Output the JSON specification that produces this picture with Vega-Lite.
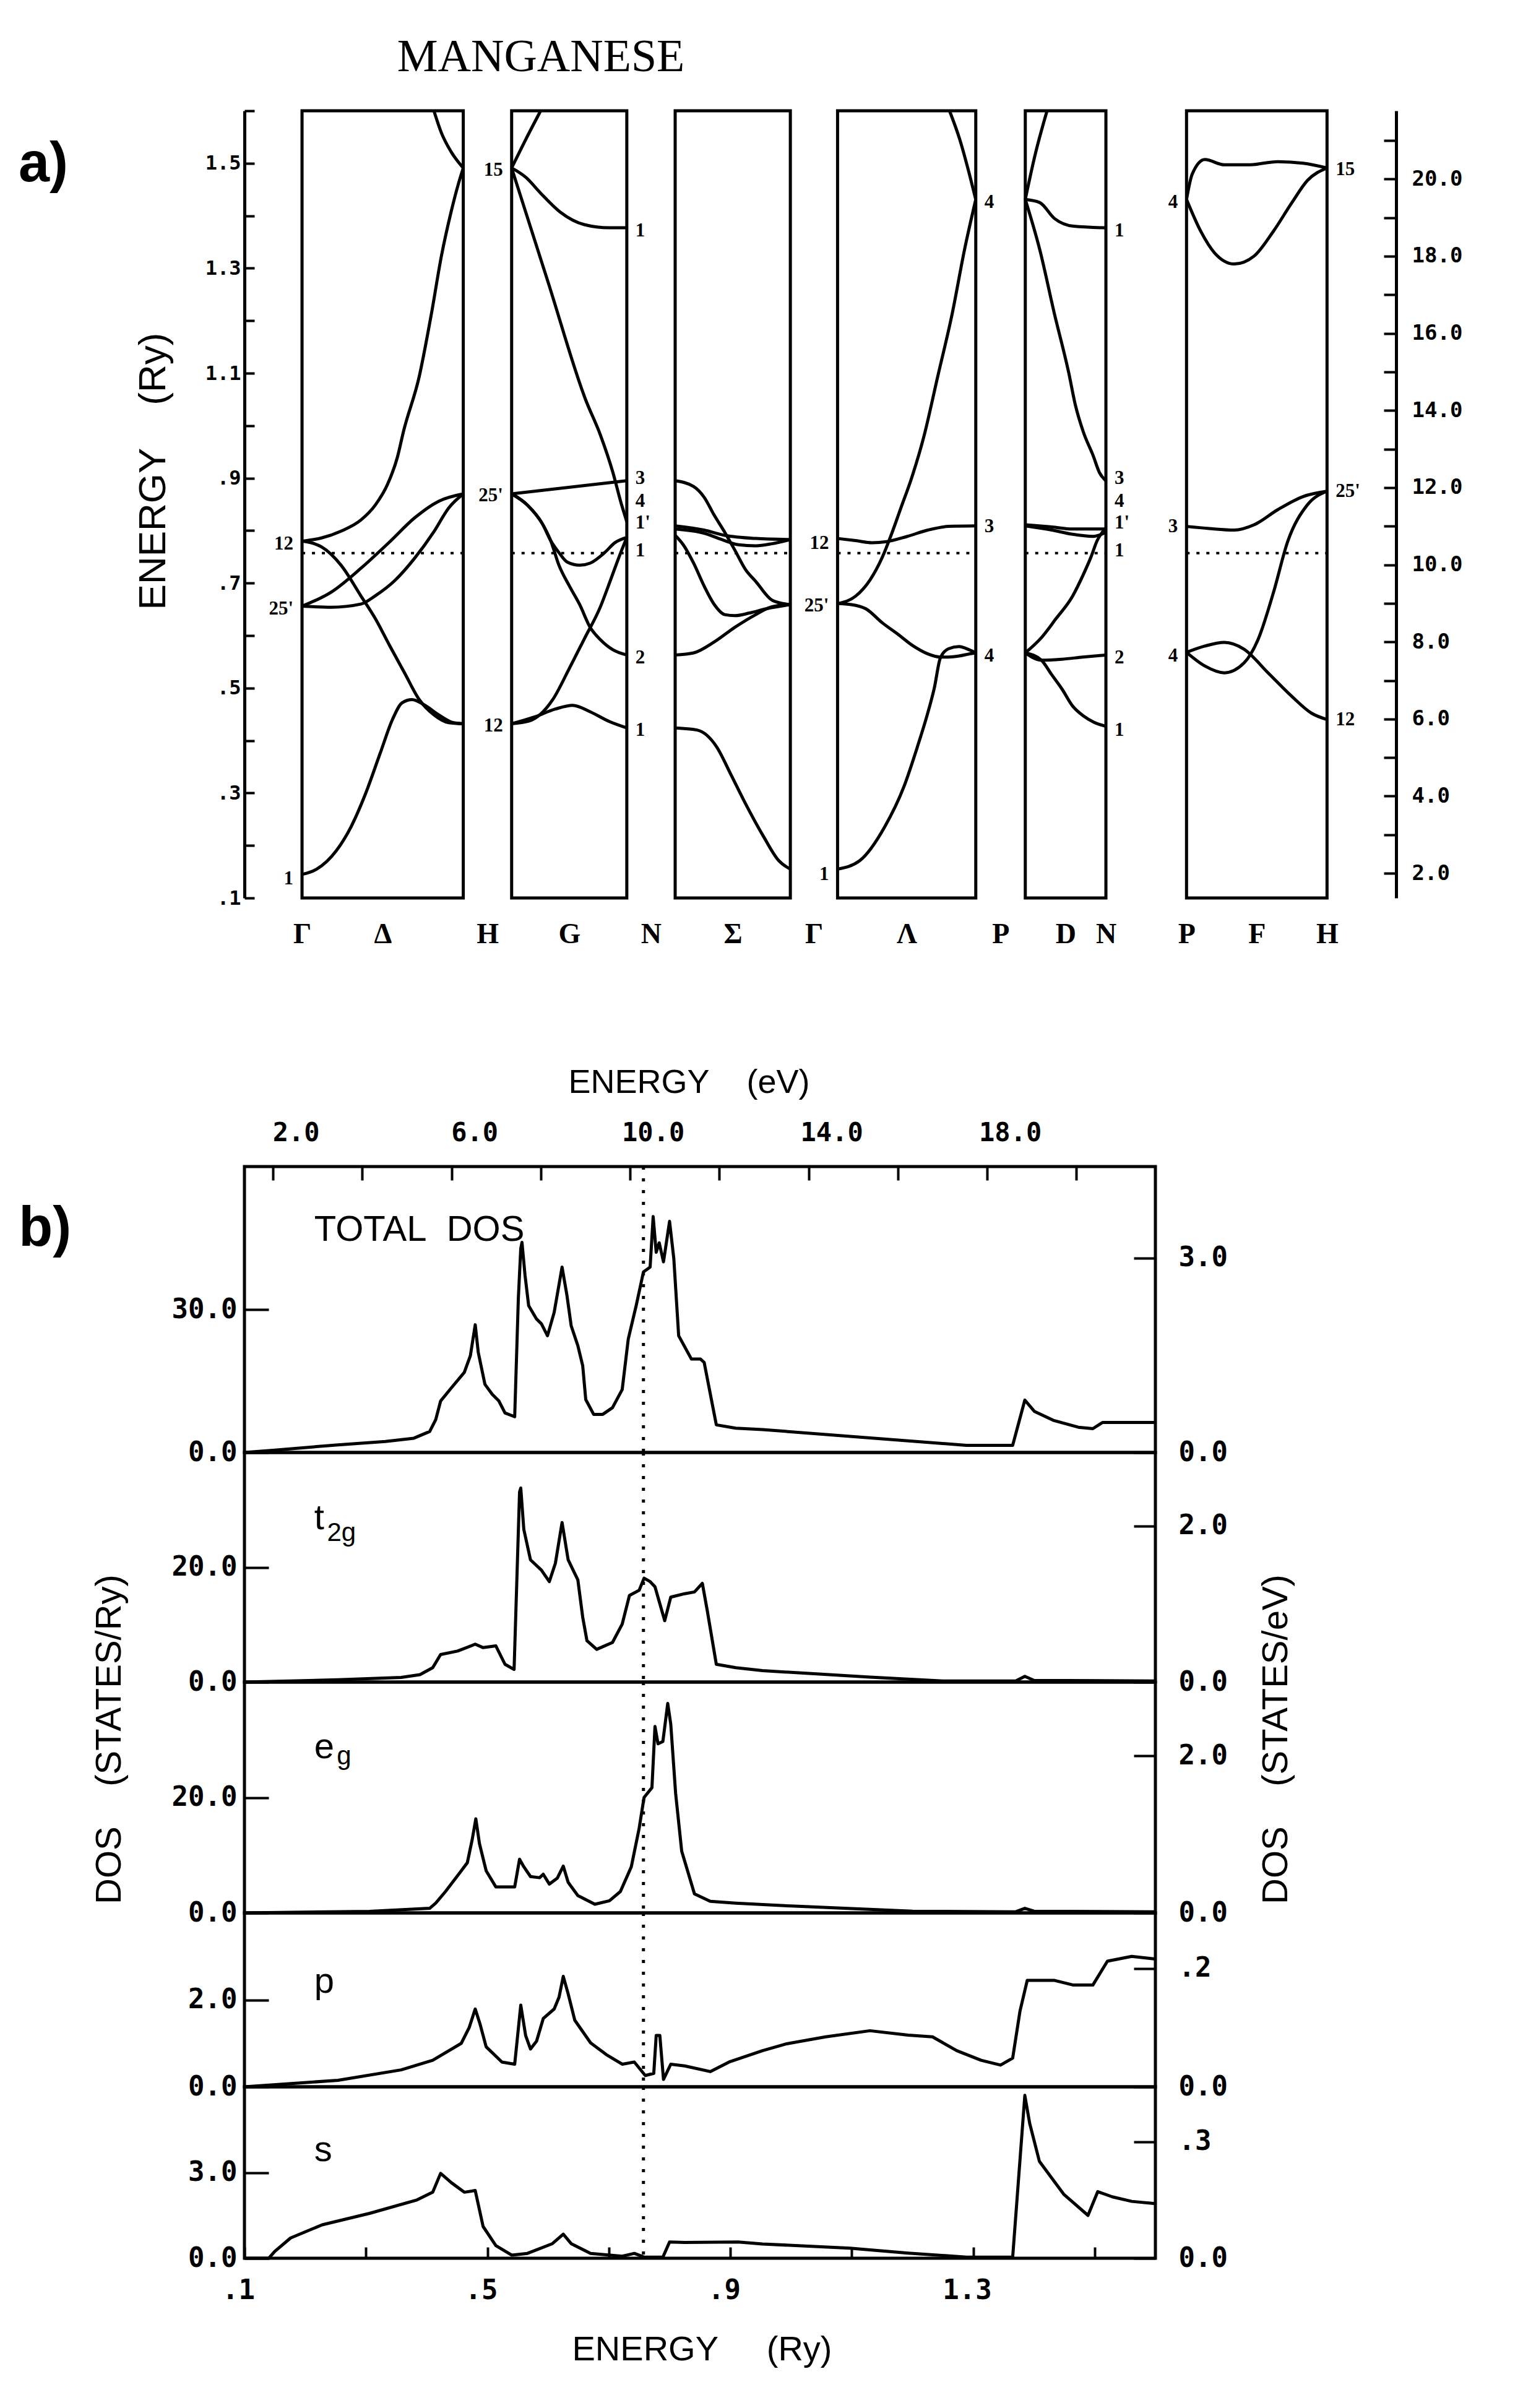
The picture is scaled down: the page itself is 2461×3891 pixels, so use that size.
{
"$schema": "https://vega.github.io/schema/vega-lite/v6.json",
"background": "white",
"padding": {"left": 27, "top": 56, "right": 10, "bottom": 10},
"config": {
  "axis": {"grid": false, "labelFlush": false, "labelOverlap": false, "domainColor": "black", "tickColor": "black", "labelColor": "black", "titleColor": "black"},
  "view": {"stroke": null}
},
"datasets": {
  "boxes": [{"k0":5,"k1":19},{"k0":23.2,"k1":33.2},{"k0":37.4,"k1":47.4},{"k0":51.5,"k1":63.5},{"k0":67.8,"k1":74.8},{"k0":81.8,"k1":94}],
  "lblR": [
    {"k":33.2,"E":1.371,"t":"1"},{"k":33.2,"E":0.899,"t":"3"},{"k":33.2,"E":0.856,"t":"4"},{"k":33.2,"E":0.815,"t":"1'"},{"k":33.2,"E":0.762,"t":"1"},{"k":33.2,"E":0.558,"t":"2"},{"k":33.2,"E":0.42,"t":"1"},
    {"k":63.5,"E":1.425,"t":"4"},{"k":63.5,"E":0.808,"t":"3"},{"k":63.5,"E":0.561,"t":"4"},
    {"k":74.8,"E":1.371,"t":"1"},{"k":74.8,"E":0.899,"t":"3"},{"k":74.8,"E":0.856,"t":"4"},{"k":74.8,"E":0.815,"t":"1'"},{"k":74.8,"E":0.762,"t":"1"},{"k":74.8,"E":0.558,"t":"2"},{"k":74.8,"E":0.42,"t":"1"},
    {"k":94,"E":1.488,"t":"15"},{"k":94,"E":0.875,"t":"25'"},{"k":94,"E":0.44,"t":"12"}
  ],
  "lblL": [
    {"k":5,"E":0.775,"t":"12"},{"k":5,"E":0.651,"t":"25'"},{"k":5,"E":0.136,"t":"1"},
    {"k":23.2,"E":1.487,"t":"15"},{"k":23.2,"E":0.866,"t":"25'"},{"k":23.2,"E":0.428,"t":"12"},
    {"k":51.5,"E":0.776,"t":"12"},{"k":51.5,"E":0.657,"t":"25'"},{"k":51.5,"E":0.145,"t":"1"},
    {"k":81.8,"E":1.425,"t":"4"},{"k":81.8,"E":0.808,"t":"3"},{"k":81.8,"E":0.561,"t":"4"}
  ],
  "bands": [
    {"c":"c1","k":5,"E":0.145},{"c":"c1","k":6.27,"E":0.155},{"c":"c1","k":7.97,"E":0.19},{"c":"c1","k":9.24,"E":0.235},{"c":"c1","k":10.52,"E":0.299},{"c":"c1","k":11.79,"E":0.376},{"c":"c1","k":12.85,"E":0.44},{"c":"c1","k":13.69,"E":0.472},{"c":"c1","k":14.55,"E":0.478},{"c":"c1","k":15.61,"E":0.468},{"c":"c1","k":16.87,"E":0.449},{"c":"c1","k":18.15,"E":0.434},{"c":"c1","k":19,"E":0.432},
    {"c":"c2","k":5,"E":0.78},{"c":"c2","k":6.69,"E":0.769},{"c":"c2","k":8.39,"E":0.734},{"c":"c2","k":10.1,"E":0.676},{"c":"c2","k":11.37,"E":0.632},{"c":"c2","k":12.63,"E":0.58},{"c":"c2","k":13.9,"E":0.529},{"c":"c2","k":15.18,"E":0.478},{"c":"c2","k":16.45,"E":0.449},{"c":"c2","k":17.73,"E":0.434},{"c":"c2","k":19,"E":0.432},
    {"c":"c3","k":5,"E":0.78},{"c":"c3","k":6.69,"E":0.786},{"c":"c3","k":8.39,"E":0.799},{"c":"c3","k":10.1,"E":0.82},{"c":"c3","k":11.37,"E":0.849},{"c":"c3","k":12.42,"E":0.888},{"c":"c3","k":13.27,"E":0.939},{"c":"c3","k":13.82,"E":0.99},{"c":"c3","k":15.18,"E":1.094},{"c":"c3","k":16.24,"E":1.214},{"c":"c3","k":17.1,"E":1.323},{"c":"c3","k":17.94,"E":1.407},{"c":"c3","k":18.58,"E":1.461},{"c":"c3","k":19,"E":1.491},
    {"c":"c4","k":16.45,"E":1.6},{"c":"c4","k":17.1,"E":1.558},{"c":"c4","k":17.94,"E":1.522},{"c":"c4","k":19,"E":1.491},
    {"c":"c5","k":5,"E":0.656},{"c":"c5","k":7.55,"E":0.683},{"c":"c5","k":10.1,"E":0.728},{"c":"c5","k":12.63,"E":0.779},{"c":"c5","k":14.76,"E":0.824},{"c":"c5","k":16.87,"E":0.856},{"c":"c5","k":19,"E":0.87},
    {"c":"c6","k":5,"E":0.656},{"c":"c6","k":7.55,"E":0.654},{"c":"c6","k":10.1,"E":0.66},{"c":"c6","k":11.37,"E":0.676},{"c":"c6","k":13.06,"E":0.705},{"c":"c6","k":14.76,"E":0.747},{"c":"c6","k":16.45,"E":0.798},{"c":"c6","k":17.73,"E":0.843},{"c":"c6","k":19,"E":0.87},
    {"c":"c7","k":23.2,"E":1.491},{"c":"c7","k":24.44,"E":1.546},{"c":"c7","k":25.72,"E":1.6},
    {"c":"c8","k":23.2,"E":1.491},{"c":"c8","k":24.44,"E":1.473},{"c":"c8","k":25.72,"E":1.443},{"c":"c8","k":27.42,"E":1.407},{"c":"c8","k":29.52,"E":1.383},{"c":"c8","k":31.66,"E":1.377},{"c":"c8","k":33.2,"E":1.377},
    {"c":"c9","k":23.2,"E":1.491},{"c":"c9","k":26.4,"E":1.271},{"c":"c9","k":29.63,"E":1.049},{"c":"c9","k":30.91,"E":0.982},{"c":"c9","k":31.99,"E":0.911},{"c":"c9","k":32.71,"E":0.852},{"c":"c9","k":33.2,"E":0.817},
    {"c":"c10","k":23.2,"E":0.87},{"c":"c10","k":33.2,"E":0.895},
    {"c":"c11","k":23.2,"E":0.87},{"c":"c11","k":24.6,"E":0.848},{"c":"c11","k":25.87,"E":0.813},{"c":"c11","k":26.59,"E":0.781},{"c":"c11","k":27.31,"E":0.758},{"c":"c11","k":28.03,"E":0.74},{"c":"c11","k":29.11,"E":0.734},{"c":"c11","k":30.01,"E":0.738},{"c":"c11","k":31.27,"E":0.758},{"c":"c11","k":32.17,"E":0.777},{"c":"c11","k":33.2,"E":0.787},
    {"c":"c12","k":23.2,"E":0.87},{"c":"c12","k":24.6,"E":0.848},{"c":"c12","k":25.87,"E":0.813},{"c":"c12","k":26.59,"E":0.781},{"c":"c12","k":27.31,"E":0.734},{"c":"c12","k":28.2,"E":0.695},{"c":"c12","k":29.11,"E":0.659},{"c":"c12","k":30.01,"E":0.616},{"c":"c12","k":30.91,"E":0.592},{"c":"c12","k":31.99,"E":0.573},{"c":"c12","k":33.2,"E":0.563},
    {"c":"c13","k":23.2,"E":0.432},{"c":"c13","k":24.7,"E":0.437},{"c":"c13","k":25.7,"E":0.45},{"c":"c13","k":26.77,"E":0.478},{"c":"c13","k":28.2,"E":0.537},{"c":"c13","k":29.47,"E":0.592},{"c":"c13","k":30.91,"E":0.655},{"c":"c13","k":31.79,"E":0.706},{"c":"c13","k":32.53,"E":0.75},{"c":"c13","k":33.2,"E":0.787},
    {"c":"c14","k":23.2,"E":0.432},{"c":"c14","k":25.2,"E":0.445},{"c":"c14","k":27,"E":0.46},{"c":"c14","k":28.5,"E":0.467},{"c":"c14","k":30,"E":0.455},{"c":"c14","k":31.7,"E":0.436},{"c":"c14","k":33.2,"E":0.424},
    {"c":"c15","k":37.4,"E":0.424},{"c":"c15","k":39.3,"E":0.42},{"c":"c15","k":41,"E":0.388},{"c":"c15","k":42.2,"E":0.337},{"c":"c15","k":43.5,"E":0.28},{"c":"c15","k":45.1,"E":0.216},{"c":"c15","k":46.4,"E":0.171},{"c":"c15","k":47.4,"E":0.155},
    {"c":"c16","k":37.4,"E":0.563},{"c":"c16","k":39,"E":0.567},{"c":"c16","k":40.8,"E":0.588},{"c":"c16","k":42.6,"E":0.616},{"c":"c16","k":44.4,"E":0.64},{"c":"c16","k":45.8,"E":0.655},{"c":"c16","k":47.4,"E":0.659},
    {"c":"c17","k":37.4,"E":0.895},{"c":"c17","k":39,"E":0.884},{"c":"c17","k":39.9,"E":0.864},{"c":"c17","k":40.8,"E":0.829},{"c":"c17","k":41.7,"E":0.797},{"c":"c17","k":42.6,"E":0.762},{"c":"c17","k":43.5,"E":0.726},{"c":"c17","k":44.4,"E":0.703},{"c":"c17","k":45.85,"E":0.667},{"c":"c17","k":47.4,"E":0.659},
    {"c":"c18","k":37.4,"E":0.791},{"c":"c18","k":38.1,"E":0.773},{"c":"c18","k":39,"E":0.738},{"c":"c18","k":39.9,"E":0.695},{"c":"c18","k":40.8,"E":0.659},{"c":"c18","k":41.7,"E":0.64},{"c":"c18","k":42.6,"E":0.638},{"c":"c18","k":43.85,"E":0.643},{"c":"c18","k":45.3,"E":0.651},{"c":"c18","k":47.4,"E":0.659},
    {"c":"c19","k":37.4,"E":0.809},{"c":"c19","k":39.9,"E":0.801},{"c":"c19","k":41.7,"E":0.791},{"c":"c19","k":44.4,"E":0.785},{"c":"c19","k":47.4,"E":0.783},
    {"c":"c20","k":37.4,"E":0.803},{"c":"c20","k":39.9,"E":0.795},{"c":"c20","k":41.7,"E":0.781},{"c":"c20","k":42.9,"E":0.773},{"c":"c20","k":44.4,"E":0.771},{"c":"c20","k":45.8,"E":0.775},{"c":"c20","k":47.4,"E":0.783},
    {"c":"c21","k":51.5,"E":0.155},{"c":"c21","k":53.42,"E":0.171},{"c":"c21","k":55.58,"E":0.235},{"c":"c21","k":57.26,"E":0.312},{"c":"c21","k":58.46,"E":0.39},{"c":"c21","k":59.3,"E":0.45},{"c":"c21","k":59.9,"E":0.5},{"c":"c21","k":60.42,"E":0.557},{"c":"c21","k":61.14,"E":0.575},{"c":"c21","k":62.04,"E":0.579},{"c":"c21","k":62.92,"E":0.573},{"c":"c21","k":63.5,"E":0.567},
    {"c":"c22","k":51.5,"E":0.661},{"c":"c22","k":52.7,"E":0.659},{"c":"c22","k":53.96,"E":0.651},{"c":"c22","k":55.4,"E":0.624},{"c":"c22","k":56.65,"E":0.604},{"c":"c22","k":58.08,"E":0.58},{"c":"c22","k":59.34,"E":0.565},{"c":"c22","k":60.42,"E":0.559},{"c":"c22","k":61.14,"E":0.559},{"c":"c22","k":62.04,"E":0.561},{"c":"c22","k":62.92,"E":0.565},{"c":"c22","k":63.5,"E":0.567},
    {"c":"c23","k":51.5,"E":0.661},{"c":"c23","k":53.06,"E":0.675},{"c":"c23","k":54.32,"E":0.706},{"c":"c23","k":55.4,"E":0.75},{"c":"c23","k":56.11,"E":0.789},{"c":"c23","k":57.01,"E":0.844},{"c":"c23","k":57.91,"E":0.899},{"c":"c23","k":58.98,"E":0.978},{"c":"c23","k":60.2,"E":1.094},{"c":"c23","k":61.46,"E":1.214},{"c":"c23","k":62.52,"E":1.335},{"c":"c23","k":63.5,"E":1.431},
    {"c":"c24","k":61.22,"E":1.6},{"c":"c24","k":62.1,"E":1.546},{"c":"c24","k":62.95,"E":1.479},{"c":"c24","k":63.5,"E":1.431},
    {"c":"c25","k":51.5,"E":0.785},{"c":"c25","k":53.06,"E":0.781},{"c":"c25","k":54.5,"E":0.777},{"c":"c25","k":55.75,"E":0.779},{"c":"c25","k":57.55,"E":0.789},{"c":"c25","k":59.34,"E":0.801},{"c":"c25","k":61.14,"E":0.808},{"c":"c25","k":63.5,"E":0.809},
    {"c":"c26","k":67.8,"E":0.567},{"c":"c26","k":69.2,"E":0.553},{"c":"c26","k":70.99,"E":0.555},{"c":"c26","k":72.79,"E":0.559},{"c":"c26","k":74.8,"E":0.563},
    {"c":"c27","k":67.8,"E":0.567},{"c":"c27","k":69.2,"E":0.553},{"c":"c27","k":70.11,"E":0.525},{"c":"c27","k":70.99,"E":0.498},{"c":"c27","k":71.9,"E":0.466},{"c":"c27","k":72.84,"E":0.447},{"c":"c27","k":73.75,"E":0.435},{"c":"c27","k":74.8,"E":0.427},
    {"c":"c28","k":67.8,"E":0.567},{"c":"c28","k":69.2,"E":0.596},{"c":"c28","k":70.46,"E":0.632},{"c":"c28","k":71.9,"E":0.675},{"c":"c28","k":72.79,"E":0.714},{"c":"c28","k":73.51,"E":0.75},{"c":"c28","k":74.04,"E":0.781},{"c":"c28","k":74.49,"E":0.797},{"c":"c28","k":74.8,"E":0.805},
    {"c":"c29","k":67.8,"E":0.811},{"c":"c29","k":70.11,"E":0.807},{"c":"c29","k":71.9,"E":0.803},{"c":"c29","k":74.8,"E":0.803},
    {"c":"c30","k":67.8,"E":0.809},{"c":"c30","k":70.11,"E":0.801},{"c":"c30","k":71.9,"E":0.793},{"c":"c30","k":73.69,"E":0.789},{"c":"c30","k":74.8,"E":0.797},
    {"c":"c31","k":67.8,"E":1.431},{"c":"c31","k":69.06,"E":1.425},{"c":"c31","k":70.32,"E":1.395},{"c":"c31","k":72,"E":1.38},{"c":"c31","k":74.8,"E":1.377},
    {"c":"c32","k":67.8,"E":1.431},{"c":"c32","k":68.64,"E":1.515},{"c":"c32","k":69.69,"E":1.6},
    {"c":"c33","k":67.8,"E":1.431},{"c":"c33","k":69.06,"E":1.335},{"c":"c33","k":70.32,"E":1.214},{"c":"c33","k":71.58,"E":1.1},{"c":"c33","k":72.14,"E":1.04},{"c":"c33","k":72.84,"E":0.988},{"c":"c33","k":73.69,"E":0.943},{"c":"c33","k":74.23,"E":0.911},{"c":"c33","k":74.8,"E":0.895},
    {"c":"c34","k":81.8,"E":0.808},{"c":"c34","k":83.75,"E":0.804},{"c":"c34","k":85.95,"E":0.801},{"c":"c34","k":87.66,"E":0.811},{"c":"c34","k":89.73,"E":0.84},{"c":"c34","k":91.93,"E":0.865},{"c":"c34","k":94,"E":0.875},
    {"c":"c35","k":81.8,"E":0.568},{"c":"c35","k":83.39,"E":0.542},{"c":"c35","k":85.09,"E":0.529},{"c":"c35","k":86.8,"E":0.548},{"c":"c35","k":88.02,"E":0.593},{"c":"c35","k":89.36,"E":0.683},{"c":"c35","k":90.58,"E":0.779},{"c":"c35","k":92.29,"E":0.849},{"c":"c35","k":94,"E":0.875},
    {"c":"c36","k":81.8,"E":0.568},{"c":"c36","k":83.39,"E":0.58},{"c":"c36","k":85.09,"E":0.587},{"c":"c36","k":86.8,"E":0.574},{"c":"c36","k":88.88,"E":0.529},{"c":"c36","k":90.95,"E":0.484},{"c":"c36","k":92.66,"E":0.452},{"c":"c36","k":94,"E":0.44},
    {"c":"c37","k":81.8,"E":1.431},{"c":"c37","k":83.02,"E":1.371},{"c":"c37","k":84.24,"E":1.329},{"c":"c37","k":85.95,"E":1.308},{"c":"c37","k":87.66,"E":1.323},{"c":"c37","k":89.36,"E":1.371},{"c":"c37","k":90.95,"E":1.425},{"c":"c37","k":92.29,"E":1.467},{"c":"c37","k":94,"E":1.491},
    {"c":"c38","k":81.8,"E":1.431},{"c":"c38","k":82.29,"E":1.479},{"c":"c38","k":83.39,"E":1.507},{"c":"c38","k":85.09,"E":1.497},{"c":"c38","k":87.17,"E":1.497},{"c":"c38","k":89.73,"E":1.503},{"c":"c38","k":91.93,"E":1.5},{"c":"c38","k":94,"E":1.491}
  ],
  "total": [
    {"ry":0.1,"dos":0},{"ry":0.15,"dos":0.5},{"ry":0.254,"dos":1.6},{"ry":0.332,"dos":2.3},{"ry":0.379,"dos":3.0},{"ry":0.405,"dos":4.4},{"ry":0.415,"dos":6.9},{"ry":0.423,"dos":10.8},{"ry":0.441,"dos":13.6},{"ry":0.462,"dos":16.8},{"ry":0.472,"dos":20.3},{"ry":0.48,"dos":26.8},{"ry":0.485,"dos":21.0},{"ry":0.496,"dos":14.3},{"ry":0.508,"dos":12.2},{"ry":0.519,"dos":10.8},{"ry":0.529,"dos":8.3},{"ry":0.545,"dos":7.5},{"ry":0.551,"dos":32.3},{"ry":0.555,"dos":42.8},{"ry":0.557,"dos":44.1},{"ry":0.562,"dos":37.2},{"ry":0.568,"dos":30.8},{"ry":0.581,"dos":28.0},{"ry":0.589,"dos":27.0},{"ry":0.599,"dos":24.5},{"ry":0.61,"dos":29.4},{"ry":0.623,"dos":38.9},{"ry":0.631,"dos":33.0},{"ry":0.638,"dos":26.6},{"ry":0.649,"dos":22.4},{"ry":0.657,"dos":18.2},{"ry":0.662,"dos":11.1},{"ry":0.675,"dos":8.0},{"ry":0.69,"dos":8.0},{"ry":0.706,"dos":9.4},{"ry":0.722,"dos":13.2},{"ry":0.732,"dos":23.8},{"ry":0.745,"dos":30.8},{"ry":0.757,"dos":37.9},{"ry":0.768,"dos":38.9},{"ry":0.773,"dos":49.5},{"ry":0.778,"dos":42.0},{"ry":0.783,"dos":44.0},{"ry":0.79,"dos":40.0},{"ry":0.8,"dos":48.5},{"ry":0.807,"dos":40.7},{"ry":0.815,"dos":24.5},{"ry":0.836,"dos":19.6},{"ry":0.851,"dos":19.6},{"ry":0.857,"dos":18.9},{"ry":0.877,"dos":5.8},{"ry":0.909,"dos":5.1},{"ry":0.953,"dos":4.8},{"ry":1.289,"dos":1.5},{"ry":1.365,"dos":1.5},{"ry":1.385,"dos":11.0},{"ry":1.401,"dos":8.6},{"ry":1.433,"dos":6.7},{"ry":1.473,"dos":5.3},{"ry":1.497,"dos":5.0},{"ry":1.513,"dos":6.3},{"ry":1.6,"dos":6.3}
  ],
  "t2g": [
    {"ry":0.1,"dos":0},{"ry":0.254,"dos":0.4},{"ry":0.358,"dos":0.8},{"ry":0.389,"dos":1.3},{"ry":0.41,"dos":2.5},{"ry":0.423,"dos":4.8},{"ry":0.451,"dos":5.4},{"ry":0.48,"dos":6.6},{"ry":0.493,"dos":6.0},{"ry":0.514,"dos":6.3},{"ry":0.529,"dos":3.1},{"ry":0.544,"dos":2.2},{"ry":0.553,"dos":33.1},{"ry":0.555,"dos":33.8},{"ry":0.56,"dos":26.6},{"ry":0.571,"dos":21.3},{"ry":0.589,"dos":19.5},{"ry":0.602,"dos":17.5},{"ry":0.612,"dos":20.7},{"ry":0.623,"dos":27.8},{"ry":0.633,"dos":21.3},{"ry":0.649,"dos":17.8},{"ry":0.657,"dos":11.3},{"ry":0.664,"dos":7.2},{"ry":0.68,"dos":5.7},{"ry":0.706,"dos":6.9},{"ry":0.722,"dos":10.1},{"ry":0.734,"dos":15.1},{"ry":0.75,"dos":16.0},{"ry":0.758,"dos":18.1},{"ry":0.768,"dos":17.5},{"ry":0.776,"dos":16.6},{"ry":0.792,"dos":10.7},{"ry":0.802,"dos":14.8},{"ry":0.825,"dos":15.4},{"ry":0.841,"dos":15.7},{"ry":0.854,"dos":17.2},{"ry":0.862,"dos":12.5},{"ry":0.877,"dos":3.1},{"ry":0.909,"dos":2.5},{"ry":0.953,"dos":2.0},{"ry":1.13,"dos":0.85},{"ry":1.25,"dos":0.2},{"ry":1.37,"dos":0.2},{"ry":1.385,"dos":1.0},{"ry":1.4,"dos":0.3},{"ry":1.6,"dos":0.2}
  ],
  "eg": [
    {"ry":0.1,"dos":0},{"ry":0.306,"dos":0.27},{"ry":0.405,"dos":0.8},{"ry":0.415,"dos":1.7},{"ry":0.431,"dos":3.7},{"ry":0.457,"dos":7.3},{"ry":0.467,"dos":8.7},{"ry":0.475,"dos":12.7},{"ry":0.481,"dos":16.3},{"ry":0.487,"dos":12.0},{"ry":0.498,"dos":7.3},{"ry":0.514,"dos":4.5},{"ry":0.545,"dos":4.5},{"ry":0.553,"dos":9.3},{"ry":0.56,"dos":8.0},{"ry":0.571,"dos":6.3},{"ry":0.586,"dos":6.1},{"ry":0.592,"dos":6.7},{"ry":0.602,"dos":5.0},{"ry":0.615,"dos":6.0},{"ry":0.625,"dos":8.1},{"ry":0.633,"dos":5.3},{"ry":0.649,"dos":3.0},{"ry":0.677,"dos":1.5},{"ry":0.701,"dos":2.1},{"ry":0.719,"dos":3.7},{"ry":0.737,"dos":8.0},{"ry":0.75,"dos":14.7},{"ry":0.758,"dos":20.0},{"ry":0.771,"dos":21.7},{"ry":0.776,"dos":32.3},{"ry":0.781,"dos":29.3},{"ry":0.789,"dos":29.7},{"ry":0.797,"dos":36.3},{"ry":0.802,"dos":32.7},{"ry":0.81,"dos":20.7},{"ry":0.82,"dos":10.7},{"ry":0.841,"dos":3.3},{"ry":0.867,"dos":2.0},{"ry":0.909,"dos":1.7},{"ry":1.0,"dos":1.2},{"ry":1.2,"dos":0.3},{"ry":1.37,"dos":0.2},{"ry":1.385,"dos":0.8},{"ry":1.4,"dos":0.3},{"ry":1.6,"dos":0.2}
  ],
  "p": [
    {"ry":0.1,"dos":0},{"ry":0.254,"dos":0.15},{"ry":0.358,"dos":0.39},{"ry":0.41,"dos":0.61},{"ry":0.457,"dos":1.0},{"ry":0.47,"dos":1.36},{"ry":0.48,"dos":1.79},{"ry":0.488,"dos":1.44},{"ry":0.498,"dos":0.92},{"ry":0.524,"dos":0.57},{"ry":0.545,"dos":0.52},{"ry":0.555,"dos":1.88},{"ry":0.563,"dos":1.18},{"ry":0.571,"dos":0.87},{"ry":0.581,"dos":1.05},{"ry":0.592,"dos":1.57},{"ry":0.61,"dos":1.79},{"ry":0.618,"dos":2.06},{"ry":0.625,"dos":2.54},{"ry":0.633,"dos":2.14},{"ry":0.644,"dos":1.53},{"ry":0.67,"dos":1.01},{"ry":0.696,"dos":0.74},{"ry":0.722,"dos":0.52},{"ry":0.742,"dos":0.57},{"ry":0.76,"dos":0.26},{"ry":0.774,"dos":0.31},{"ry":0.778,"dos":1.18},{"ry":0.784,"dos":1.18},{"ry":0.79,"dos":0.17},{"ry":0.802,"dos":0.52},{"ry":0.825,"dos":0.48},{"ry":0.867,"dos":0.35},{"ry":0.898,"dos":0.57},{"ry":0.953,"dos":0.83},{"ry":0.993,"dos":0.99},{"ry":1.057,"dos":1.15},{"ry":1.13,"dos":1.29},{"ry":1.193,"dos":1.19},{"ry":1.233,"dos":1.15},{"ry":1.273,"dos":0.83},{"ry":1.313,"dos":0.61},{"ry":1.345,"dos":0.5},{"ry":1.365,"dos":0.66},{"ry":1.377,"dos":1.74},{"ry":1.389,"dos":2.45},{"ry":1.433,"dos":2.45},{"ry":1.465,"dos":2.34},{"ry":1.497,"dos":2.34},{"ry":1.521,"dos":2.89},{"ry":1.561,"dos":3.0},{"ry":1.6,"dos":2.94}
  ],
  "s": [
    {"ry":0.1,"dos":0},{"ry":0.14,"dos":0},{"ry":0.15,"dos":0.24},{"ry":0.176,"dos":0.71},{"ry":0.228,"dos":1.17},{"ry":0.306,"dos":1.57},{"ry":0.384,"dos":2.04},{"ry":0.41,"dos":2.31},{"ry":0.423,"dos":2.97},{"ry":0.441,"dos":2.64},{"ry":0.462,"dos":2.31},{"ry":0.48,"dos":2.37},{"ry":0.493,"dos":1.11},{"ry":0.514,"dos":0.44},{"ry":0.54,"dos":0.11},{"ry":0.566,"dos":0.17},{"ry":0.607,"dos":0.51},{"ry":0.625,"dos":0.84},{"ry":0.638,"dos":0.51},{"ry":0.67,"dos":0.17},{"ry":0.722,"dos":0.07},{"ry":0.742,"dos":0.17},{"ry":0.758,"dos":0.04},{"ry":0.789,"dos":0.04},{"ry":0.8,"dos":0.57},{"ry":0.825,"dos":0.55},{"ry":0.913,"dos":0.57},{"ry":0.953,"dos":0.5},{"ry":1.097,"dos":0.35},{"ry":1.193,"dos":0.18},{"ry":1.289,"dos":0.04},{"ry":1.365,"dos":0.04},{"ry":1.385,"dos":5.7},{"ry":1.393,"dos":4.72},{"ry":1.409,"dos":3.39},{"ry":1.449,"dos":2.24},{"ry":1.489,"dos":1.5},{"ry":1.505,"dos":2.33},{"ry":1.529,"dos":2.15},{"ry":1.561,"dos":1.99},{"ry":1.6,"dos":1.91}
  ]
},
"spacing": 434,
"bounds": "flush",
"vconcat": [
  {
    "width": 1861, "height": 1272,
    "view": {"stroke": null},
    "layer": [
      {"data": {"name": "boxes"},
       "mark": {"type": "rect", "fillOpacity": 0, "stroke": "black", "strokeWidth": 5},
       "encoding": {
         "x": {"field": "k0", "type": "quantitative", "scale": {"domain": [0, 100], "nice": false, "zero": false},
               "axis": {"orient": "bottom", "values": [5,12,21.1,28.2,35.3,42.4,49.45,57.5,65.65,71.3,74.8,81.8,87.9,94],
                        "labelExpr": "['Γ','Δ','H','G','N','Σ','Γ','Λ','P','D','N','P','F','H'][indexof([5,12,21.1,28.2,35.3,42.4,49.45,57.5,65.65,71.3,74.8,81.8,87.9,94], datum.value)]",
                        "ticks": false, "domain": false, "labelPadding": 36, "labelBaseline": "top",
                        "labelFont": "Liberation Serif", "labelFontSize": 46, "labelFontWeight": "bold", "title": null}},
         "x2": {"field": "k1"},
         "y": {"datum": 0.1, "type": "quantitative", "scale": {"domain": [0.1, 1.6], "nice": false, "zero": false},
               "axis": {"orient": "left", "values": [0.1,0.2,0.3,0.4,0.5,0.6,0.7,0.8,0.9,1,1.1,1.2,1.3,1.4,1.5,1.6],
                        "labelExpr": "['.1','','.3','','.5','','.7','','.9','','1.1','','1.3','','1.5',''][indexof([0.1,0.2,0.3,0.4,0.5,0.6,0.7,0.8,0.9,1,1.1,1.2,1.3,1.4,1.5,1.6], datum.value)]",
                        "tickSize": -16, "tickWidth": 4, "domainWidth": 5, "labelPadding": 22,
                        "labelFont": "DejaVu Sans Mono", "labelFontSize": 32, "labelFontWeight": "bold",
                        "title": "ENERGY\u00a0\u00a0\u00a0\u00a0(Ry)", "titleFont": "Liberation Sans", "titleFontSize": 62, "titleFontWeight": "normal",
                        "titleAngle": 270, "titleX": -148, "titleY": 582, "titleAlign": "center", "titleBaseline": "middle"}},
         "y2": {"datum": 1.6}
       }},
      {"data": {"name": "boxes"},
       "mark": {"type": "rule", "strokeDash": [5, 11], "strokeWidth": 4, "color": "black"},
       "encoding": {
         "x": {"field": "k0", "type": "quantitative", "scale": {"domain": [0, 100], "nice": false, "zero": false}, "axis": null},
         "x2": {"field": "k1"},
         "y": {"datum": 0.757, "type": "quantitative", "scale": {"domain": [0.1, 1.6], "nice": false, "zero": false}, "axis": null}
       }},
      {"data": {"name": "bands"},
       "mark": {"type": "line", "color": "black", "strokeWidth": 5, "interpolate": "monotone", "strokeJoin": "round"},
       "encoding": {
         "x": {"field": "k", "type": "quantitative", "scale": {"domain": [0, 100], "nice": false, "zero": false}, "axis": null},
         "y": {"field": "E", "type": "quantitative", "scale": {"domain": [0.1, 1.6], "nice": false, "zero": false}, "axis": null},
         "detail": {"field": "c", "type": "nominal"}
       }},
      {"data": {"name": "lblR"},
       "mark": {"type": "text", "align": "left", "baseline": "middle", "dx": 14, "font": "Liberation Serif", "fontSize": 31, "fontWeight": "bold", "color": "black"},
       "encoding": {
         "x": {"field": "k", "type": "quantitative", "scale": {"domain": [0, 100], "nice": false, "zero": false}, "axis": null},
         "y": {"field": "E", "type": "quantitative", "scale": {"domain": [0.1, 1.6], "nice": false, "zero": false}, "axis": null},
         "text": {"field": "t"}
       }},
      {"data": {"name": "lblL"},
       "mark": {"type": "text", "align": "right", "baseline": "middle", "dx": -14, "font": "Liberation Serif", "fontSize": 31, "fontWeight": "bold", "color": "black"},
       "encoding": {
         "x": {"field": "k", "type": "quantitative", "scale": {"domain": [0, 100], "nice": false, "zero": false}, "axis": null},
         "y": {"field": "E", "type": "quantitative", "scale": {"domain": [0.1, 1.6], "nice": false, "zero": false}, "axis": null},
         "text": {"field": "t"}
       }},
      {"data": {"values": [{}]},
       "mark": {"type": "text", "text": "MANGANESE", "font": "Liberation Serif", "fontSize": 74, "align": "center", "baseline": "alphabetic", "color": "black"},
       "encoding": {
         "x": {"datum": 25.74, "type": "quantitative", "scale": {"domain": [0, 100], "nice": false, "zero": false}, "axis": null},
         "y": {"datum": 1.675, "type": "quantitative", "scale": {"domain": [0.1, 1.6], "nice": false, "zero": false}, "axis": null}
       }},
      {"data": {"values": [{}]},
       "mark": {"type": "text", "text": "a)", "font": "Liberation Sans", "fontSize": 90, "fontWeight": "bold", "align": "left", "baseline": "alphabetic", "color": "black"},
       "encoding": {
         "x": {"datum": -19.61, "type": "quantitative", "scale": {"domain": [0, 100], "nice": false, "zero": false}, "axis": null},
         "y": {"datum": 1.466, "type": "quantitative", "scale": {"domain": [0.1, 1.6], "nice": false, "zero": false}, "axis": null}
       }},
      {"data": {"values": [{}]},
       "mark": {"type": "rule", "opacity": 0},
       "encoding": {
         "y": {"datum": 10.3, "type": "quantitative", "scale": {"domain": [1.3606, 21.7691], "nice": false, "zero": false},
               "axis": {"orient": "right", "values": [2,3,4,5,6,7,8,9,10,11,12,13,14,15,16,17,18,19,20,21],
                        "labelExpr": "datum.value % 2 == 0 ? format(datum.value, '.1f') : ''",
                        "tickSize": -20, "tickWidth": 4, "domainWidth": 5, "labelPadding": 45,
                        "labelFont": "DejaVu Sans Mono", "labelFontSize": 34, "labelFontWeight": "bold", "title": null}}
       }}
    ],
    "resolve": {"scale": {"x": "independent", "y": "independent"}}
  },
  {
    "spacing": 0,
    "bounds": "flush",
    "vconcat": [
      {
        "width": 1472, "height": 462,
        "view": {"stroke": "black", "strokeWidth": 5},
        "layer": [
          {"data": {"name": "total"},
           "mark": {"type": "line", "color": "black", "strokeWidth": 5, "strokeJoin": "round"},
           "encoding": {
             "x": {"field": "ry", "type": "quantitative", "scale": {"domain": [0.1, 1.6], "nice": false, "zero": false}, "axis": null},
             "y": {"field": "dos", "type": "quantitative", "scale": {"domain": [0, 60], "nice": false, "zero": false},
                   "axis": {"orient": "left", "values": [0, 30], "format": ".1f", "tickSize": -39, "tickWidth": 4, "domain": false, "labelPadding": 51,
                            "labelFont": "DejaVu Sans Mono", "labelFontSize": 44, "labelFontWeight": "bold", "title": null}}
           }},
          {"data": {"values": [{}]},
           "mark": {"type": "rule", "strokeDash": [5, 14], "strokeWidth": 5, "color": "black"},
           "encoding": {"x": {"datum": 0.757, "type": "quantitative", "scale": {"domain": [0.1, 1.6], "nice": false, "zero": false}, "axis": null}}},
          {"data": {"values": [{}]},
           "mark": {"type": "text", "text": "TOTAL\u00a0\u00a0DOS", "font": "Liberation Sans", "fontSize": 58, "align": "left", "baseline": "alphabetic", "color": "black"},
           "encoding": {
             "x": {"datum": 0.215, "type": "quantitative", "scale": {"domain": [0.1, 1.6], "nice": false, "zero": false}, "axis": null},
             "y": {"datum": 44.4, "type": "quantitative", "scale": {"domain": [0, 60], "nice": false, "zero": false}, "axis": null}
           }},
          {"data": {"values": [{}]},
           "mark": {"type": "text", "text": "b)", "font": "Liberation Sans", "fontSize": 90, "fontWeight": "bold", "align": "left", "baseline": "alphabetic", "color": "black"},
           "encoding": {
             "x": {"datum": -0.2717, "type": "quantitative", "scale": {"domain": [0.1, 1.6], "nice": false, "zero": false}, "axis": null},
             "y": {"datum": 43.4, "type": "quantitative", "scale": {"domain": [0, 60], "nice": false, "zero": false}, "axis": null}
           }},
          {"data": {"values": [{}]},
           "mark": {"type": "rule", "opacity": 0},
           "encoding": {"y": {"datum": 0, "type": "quantitative", "scale": {"domain": [0, 4.41], "nice": false, "zero": false},
             "axis": {"orient": "right", "values": [0, 3], "format": ".1f", "tickSize": -35, "tickWidth": 4, "domain": false, "labelPadding": 72,
                      "labelFont": "DejaVu Sans Mono", "labelFontSize": 44, "labelFontWeight": "bold", "title": null}}}},
          {"data": {"values": [{}]},
           "mark": {"type": "rule", "opacity": 0},
           "encoding": {"x": {"datum": 10, "type": "quantitative", "scale": {"domain": [1.3606, 21.7691], "nice": false, "zero": false},
             "axis": {"orient": "top", "values": [2,4,6,8,10,12,14,16,18,20],
                      "labelExpr": "datum.value % 4 == 2 ? format(datum.value, '.1f') : ''",
                      "tickSize": -22, "tickWidth": 4, "domain": false, "labelPadding": 55, "labelOffset": 37,
                      "labelFont": "DejaVu Sans Mono", "labelFontSize": 42, "labelFontWeight": "bold",
                      "title": "ENERGY\u00a0\u00a0\u00a0\u00a0(eV)", "titleFont": "Liberation Sans", "titleFontSize": 54, "titleFontWeight": "normal",
                      "titleX": 718, "titleY": -136, "titleAlign": "center", "titleBaseline": "middle"}}}}
        ],
        "resolve": {"scale": {"x": "independent", "y": "independent"}}
      },
      {
        "width": 1472, "height": 371,
        "view": {"stroke": "black", "strokeWidth": 5},
        "layer": [
          {"data": {"name": "t2g"},
           "mark": {"type": "line", "color": "black", "strokeWidth": 5, "strokeJoin": "round"},
           "encoding": {
             "x": {"field": "ry", "type": "quantitative", "scale": {"domain": [0.1, 1.6], "nice": false, "zero": false}, "axis": null},
             "y": {"field": "dos", "type": "quantitative", "scale": {"domain": [0, 40], "nice": false, "zero": false},
                   "axis": {"orient": "left", "values": [0, 20], "format": ".1f", "tickSize": -39, "tickWidth": 4, "domain": false, "labelPadding": 51,
                            "labelFont": "DejaVu Sans Mono", "labelFontSize": 44, "labelFontWeight": "bold", "title": null}}
           }},
          {"data": {"values": [{}]},
           "mark": {"type": "rule", "strokeDash": [5, 14], "strokeWidth": 5, "color": "black"},
           "encoding": {"x": {"datum": 0.757, "type": "quantitative", "scale": {"domain": [0.1, 1.6], "nice": false, "zero": false}, "axis": null}}},
          {"data": {"values": [{}]},
           "mark": {"type": "text", "text": "t", "font": "Liberation Sans", "fontSize": 58, "align": "left", "baseline": "alphabetic", "color": "black"},
           "encoding": {
             "x": {"datum": 0.215, "type": "quantitative", "scale": {"domain": [0.1, 1.6], "nice": false, "zero": false}, "axis": null},
             "y": {"datum": 26.6, "type": "quantitative", "scale": {"domain": [0, 40], "nice": false, "zero": false}, "axis": null}
           }},
          {"data": {"values": [{}]},
           "mark": {"type": "text", "text": "2g", "font": "Liberation Sans", "fontSize": 42, "align": "left", "baseline": "alphabetic", "color": "black"},
           "encoding": {
             "x": {"datum": 0.236, "type": "quantitative", "scale": {"domain": [0.1, 1.6], "nice": false, "zero": false}, "axis": null},
             "y": {"datum": 24.6, "type": "quantitative", "scale": {"domain": [0, 40], "nice": false, "zero": false}, "axis": null}
           }},
          {"data": {"values": [{}]},
           "mark": {"type": "rule", "opacity": 0},
           "encoding": {"y": {"datum": 0, "type": "quantitative", "scale": {"domain": [0, 2.94], "nice": false, "zero": false},
             "axis": {"orient": "right", "values": [0, 2], "format": ".1f", "tickSize": -35, "tickWidth": 4, "domain": false, "labelPadding": 72,
                      "labelFont": "DejaVu Sans Mono", "labelFontSize": 44, "labelFontWeight": "bold", "title": null}}}}
        ],
        "resolve": {"scale": {"y": "independent"}}
      },
      {
        "width": 1472, "height": 373,
        "view": {"stroke": "black", "strokeWidth": 5},
        "layer": [
          {"data": {"name": "eg"},
           "mark": {"type": "line", "color": "black", "strokeWidth": 5, "strokeJoin": "round"},
           "encoding": {
             "x": {"field": "ry", "type": "quantitative", "scale": {"domain": [0.1, 1.6], "nice": false, "zero": false}, "axis": null},
             "y": {"field": "dos", "type": "quantitative", "scale": {"domain": [0, 40], "nice": false, "zero": false},
                   "axis": {"orient": "left", "values": [0, 20], "format": ".1f", "tickSize": -39, "tickWidth": 4, "domain": false, "labelPadding": 51,
                            "labelFont": "DejaVu Sans Mono", "labelFontSize": 44, "labelFontWeight": "bold",
                            "title": "DOS\u00a0\u00a0\u00a0\u00a0(STATES/Ry)", "titleFont": "Liberation Sans", "titleFontSize": 58, "titleFontWeight": "normal",
                            "titleAngle": 270, "titleX": -218, "titleY": 92, "titleAlign": "center", "titleBaseline": "middle"}}
           }},
          {"data": {"values": [{}]},
           "mark": {"type": "rule", "strokeDash": [5, 14], "strokeWidth": 5, "color": "black"},
           "encoding": {"x": {"datum": 0.757, "type": "quantitative", "scale": {"domain": [0.1, 1.6], "nice": false, "zero": false}, "axis": null}}},
          {"data": {"values": [{}]},
           "mark": {"type": "text", "text": "e", "font": "Liberation Sans", "fontSize": 58, "align": "left", "baseline": "alphabetic", "color": "black"},
           "encoding": {
             "x": {"datum": 0.215, "type": "quantitative", "scale": {"domain": [0.1, 1.6], "nice": false, "zero": false}, "axis": null},
             "y": {"datum": 26.8, "type": "quantitative", "scale": {"domain": [0, 40], "nice": false, "zero": false}, "axis": null}
           }},
          {"data": {"values": [{}]},
           "mark": {"type": "text", "text": "g", "font": "Liberation Sans", "fontSize": 42, "align": "left", "baseline": "alphabetic", "color": "black"},
           "encoding": {
             "x": {"datum": 0.252, "type": "quantitative", "scale": {"domain": [0.1, 1.6], "nice": false, "zero": false}, "axis": null},
             "y": {"datum": 25.7, "type": "quantitative", "scale": {"domain": [0, 40], "nice": false, "zero": false}, "axis": null}
           }},
          {"data": {"values": [{}]},
           "mark": {"type": "rule", "opacity": 0},
           "encoding": {"y": {"datum": 0, "type": "quantitative", "scale": {"domain": [0, 2.94], "nice": false, "zero": false},
             "axis": {"orient": "right", "values": [0, 2], "format": ".1f", "tickSize": -35, "tickWidth": 4, "domain": false, "labelPadding": 72,
                      "labelFont": "DejaVu Sans Mono", "labelFontSize": 44, "labelFontWeight": "bold",
                      "title": "DOS\u00a0\u00a0\u00a0\u00a0(STATES/eV)", "titleFont": "Liberation Sans", "titleFontSize": 58, "titleFontWeight": "normal",
                      "titleAngle": 270, "titleX": 195, "titleY": 92, "titleAlign": "center", "titleBaseline": "middle"}}}}
        ],
        "resolve": {"scale": {"y": "independent"}}
      },
      {
        "width": 1472, "height": 281,
        "view": {"stroke": "black", "strokeWidth": 5},
        "layer": [
          {"data": {"name": "p"},
           "mark": {"type": "line", "color": "black", "strokeWidth": 5, "strokeJoin": "round"},
           "encoding": {
             "x": {"field": "ry", "type": "quantitative", "scale": {"domain": [0.1, 1.6], "nice": false, "zero": false}, "axis": null},
             "y": {"field": "dos", "type": "quantitative", "scale": {"domain": [0, 4], "nice": false, "zero": false},
                   "axis": {"orient": "left", "values": [0, 2], "format": ".1f", "tickSize": -39, "tickWidth": 4, "domain": false, "labelPadding": 51,
                            "labelFont": "DejaVu Sans Mono", "labelFontSize": 44, "labelFontWeight": "bold", "title": null}}
           }},
          {"data": {"values": [{}]},
           "mark": {"type": "rule", "strokeDash": [5, 14], "strokeWidth": 5, "color": "black"},
           "encoding": {"x": {"datum": 0.757, "type": "quantitative", "scale": {"domain": [0.1, 1.6], "nice": false, "zero": false}, "axis": null}}},
          {"data": {"values": [{}]},
           "mark": {"type": "text", "text": "p", "font": "Liberation Sans", "fontSize": 58, "align": "left", "baseline": "alphabetic", "color": "black"},
           "encoding": {
             "x": {"datum": 0.215, "type": "quantitative", "scale": {"domain": [0.1, 1.6], "nice": false, "zero": false}, "axis": null},
             "y": {"datum": 2.17, "type": "quantitative", "scale": {"domain": [0, 4], "nice": false, "zero": false}, "axis": null}
           }},
          {"data": {"values": [{}]},
           "mark": {"type": "rule", "opacity": 0},
           "encoding": {"y": {"datum": 0, "type": "quantitative", "scale": {"domain": [0, 0.294], "nice": false, "zero": false},
             "axis": {"orient": "right", "values": [0, 0.2], "labelExpr": "datum.value == 0 ? '0.0' : '.2'", "tickSize": -35, "tickWidth": 4, "domain": false, "labelPadding": 72,
                      "labelFont": "DejaVu Sans Mono", "labelFontSize": 44, "labelFontWeight": "bold", "title": null}}}}
        ],
        "resolve": {"scale": {"y": "independent"}}
      },
      {
        "width": 1472, "height": 277,
        "view": {"stroke": "black", "strokeWidth": 5},
        "layer": [
          {"data": {"name": "s"},
           "mark": {"type": "line", "color": "black", "strokeWidth": 5, "strokeJoin": "round"},
           "encoding": {
             "x": {"field": "ry", "type": "quantitative", "scale": {"domain": [0.1, 1.6], "nice": false, "zero": false},
                   "axis": {"orient": "bottom", "values": [0.1,0.3,0.5,0.7,0.9,1.1,1.3,1.5],
                            "labelExpr": "datum.value == 0.1 ? '.1' : datum.value == 0.5 ? '.5' : datum.value == 0.9 ? '.9' : datum.value == 1.3 ? '1.3' : ''",
                            "tickSize": -18, "tickWidth": 4, "domain": false, "labelPadding": 48, "labelOffset": -10,
                            "labelFont": "DejaVu Sans Mono", "labelFontSize": 44, "labelFontWeight": "bold",
                            "title": "ENERGY\u00a0\u00a0\u00a0\u00a0\u00a0(Ry)", "titleFont": "Liberation Sans", "titleFontSize": 56, "titleFontWeight": "normal",
                            "titleX": 739, "titleY": 147, "titleAlign": "center", "titleBaseline": "middle"}},
             "y": {"field": "dos", "type": "quantitative", "scale": {"domain": [0, 6], "nice": false, "zero": false},
                   "axis": {"orient": "left", "values": [0, 3], "format": ".1f", "tickSize": -39, "tickWidth": 4, "domain": false, "labelPadding": 51,
                            "labelFont": "DejaVu Sans Mono", "labelFontSize": 44, "labelFontWeight": "bold", "title": null}}
           }},
          {"data": {"values": [{}]},
           "mark": {"type": "rule", "strokeDash": [5, 14], "strokeWidth": 5, "color": "black"},
           "encoding": {"x": {"datum": 0.757, "type": "quantitative", "scale": {"domain": [0.1, 1.6], "nice": false, "zero": false}, "axis": null}}},
          {"data": {"values": [{}]},
           "mark": {"type": "text", "text": "s", "font": "Liberation Sans", "fontSize": 58, "align": "left", "baseline": "alphabetic", "color": "black"},
           "encoding": {
             "x": {"datum": 0.215, "type": "quantitative", "scale": {"domain": [0.1, 1.6], "nice": false, "zero": false}, "axis": null},
             "y": {"datum": 3.39, "type": "quantitative", "scale": {"domain": [0, 6], "nice": false, "zero": false}, "axis": null}
           }},
          {"data": {"values": [{}]},
           "mark": {"type": "rule", "opacity": 0},
           "encoding": {"y": {"datum": 0, "type": "quantitative", "scale": {"domain": [0, 0.441], "nice": false, "zero": false},
             "axis": {"orient": "right", "values": [0, 0.3], "labelExpr": "datum.value == 0 ? '0.0' : '.3'", "tickSize": -35, "tickWidth": 4, "domain": false, "labelPadding": 72,
                      "labelFont": "DejaVu Sans Mono", "labelFontSize": 44, "labelFontWeight": "bold", "title": null}}}}
        ],
        "resolve": {"scale": {"x": "independent", "y": "independent"}}
      }
    ]
  }
]
}
